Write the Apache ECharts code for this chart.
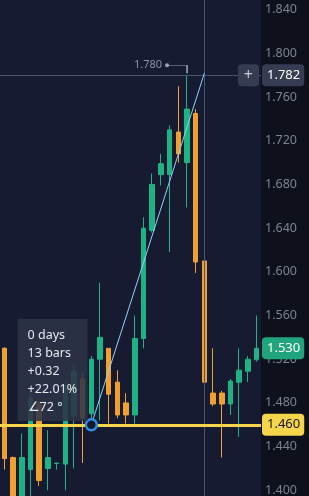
<!DOCTYPE html>
<html>
<head>
<meta charset="utf-8">
<script src="https://cdn.jsdelivr.net/npm/echarts@6/dist/echarts.min.js"></script>
<style>
html, body { margin: 0; padding: 0; background: #0e111c; overflow: hidden; width: 309px; height: 496px; }
/* taller than the window so the 0.04 ticks start at a round min; top and bottom ticks fall outside */
#chart { position: absolute; left: 0; top: -34px; width: 309px; height: 568px; }
</style>
</head>
<body>
<div id="chart"></div>
<script>
// bars, left to right
var bars = ['1','2','3','4','5','6','7','8','9','10','11','12','13','14','15',
            '16','17','18','19','20','21','22','23','24','25','26','27','28','29','30'];
var opens  = [1.530, 1.430, 1.380, 1.419, 1.480, 1.420, 1.4245, 1.424, 1.468, 1.502,
              1.470, 1.520, 1.530, 1.499, 1.480, 1.469, 1.539, 1.638, 1.689, 1.689,
              1.728, 1.700, 1.745, 1.610, 1.489, 1.489, 1.479, 1.499, 1.509, 1.5195];
var closes = [1.429, 1.375, 1.430, 1.485, 1.409, 1.430, 1.425, 1.496, 1.509, 1.466,
              1.520, 1.540, 1.488, 1.469, 1.469, 1.539, 1.640, 1.680, 1.699, 1.730,
              1.708, 1.749, 1.609, 1.499, 1.479, 1.479, 1.500, 1.510, 1.520, 1.530];
var lows   = [1.419, 1.365, 1.372, 1.385, 1.404, 1.400, 1.419, 1.400, 1.420, 1.425,
              1.462, 1.464, 1.461, 1.466, 1.461, 1.461, 1.530, 1.636, 1.679, 1.618,
              1.700, 1.659, 1.599, 1.4975, 1.477, 1.430, 1.469, 1.449, 1.499, 1.518];
var highs  = [1.531, 1.431, 1.452, 1.490, 1.484, 1.455, 1.425, 1.500, 1.514, 1.508,
              1.523, 1.590, 1.530, 1.510, 1.489, 1.560, 1.650, 1.690, 1.708, 1.734,
              1.770, 1.780, 1.749, 1.612, 1.530, 1.491, 1.502, 1.530, 1.523, 1.560];

// price scale
var priceMin = 1.36, priceMax = 1.88, priceStep = 0.04;

// drawing tool / crosshair
var startBar = 10, basePrice = 1.460;
var crossBar = 23, crossPrice = 1.782;
var lastPrice = 1.530;
var highBar = 21, highPrice = 1.780;
var statLines = ['0 days', '13 bars', '+0.32', '+22.01%', '\u222072 \u00b0'];

var up = '#1fb285', down = '#f0a030', crossColor = '#4b5472';
var font = 'Noto Sans';
var hidden = 'rgba(0,0,0,0)';

var candles = bars.map(function (b, i) {
  return [opens[i], closes[i], lows[i], highs[i]];
});

function priceTag(bg, fg) {
  return {
    show: true, position: 'end', distance: 1,
    color: fg, backgroundColor: bg, borderRadius: 4,
    padding: [4, 4, 4, 5], fontSize: 13, lineHeight: 14, fontFamily: font
  };
}

var chart = echarts.init(document.getElementById('chart'));
var option = {
  backgroundColor: '#0e111c',
  animation: false,
  grid: { left: 0, right: 48, top: 0, bottom: 0, show: true, outerBoundsMode: 'none',
          backgroundColor: '#161b31', borderWidth: 0 },
  xAxis: { type: 'category', data: bars, show: false, boundaryGap: true },
  yAxis: {
    type: 'value', position: 'right', min: priceMin, max: priceMax, interval: priceStep,
    axisLine: { show: false }, axisTick: { show: false }, splitLine: { show: false },
    axisLabel: { margin: 4, color: '#7d8292', fontSize: 12.5, fontFamily: font,
                 formatter: function (v) { return v.toFixed(3); } }
  },
  series: [{
    type: 'candlestick',
    data: candles,
    barWidth: 5,
    itemStyle: { color: up, color0: down, borderColor: up, borderColor0: down, borderWidth: 1 },
    markLine: {
      silent: true, symbol: ['none', 'none'], animation: false,
      data: [
        { yAxis: crossPrice, lineStyle: { color: crossColor, width: 1, type: 'solid' },
          label: Object.assign(priceTag('#363c52', '#ffffff'), { formatter: crossPrice.toFixed(3) }) },
        { yAxis: crossPrice, lineStyle: { color: hidden, width: 1 },
          label: { show: true, position: 'insideEnd', distance: 2, formatter: '+',
                   color: '#c8ccd8', backgroundColor: '#363c52', borderRadius: 4,
                   padding: [2, 6, 2, 6], fontSize: 16, lineHeight: 18, fontFamily: font } },
        { xAxis: crossBar, lineStyle: { color: crossColor, width: 1, type: 'solid' },
          label: { show: false } },
        { yAxis: basePrice, lineStyle: { color: '#f7d54a', width: 3, type: 'solid' },
          label: Object.assign(priceTag('#f7d54a', '#131722'), { formatter: basePrice.toFixed(3) }) },
        { yAxis: lastPrice, lineStyle: { color: hidden, width: 1 },
          label: Object.assign(priceTag('#20a47c', '#ffffff'), { formatter: lastPrice.toFixed(3) }) },
        [
          { coord: [startBar, basePrice], lineStyle: { color: '#8fd3f7', width: 1, type: 'solid' },
            label: { show: false } },
          { coord: [crossBar, crossPrice] }
        ]
      ]
    },
    markPoint: {
      silent: true, animation: false,
      data: [
        { coord: [startBar, basePrice], symbol: 'circle', symbolSize: 11,
          itemStyle: { color: '#131a2c', borderColor: '#2f8fe8', borderWidth: 2.5 },
          label: { show: true, position: [-67, -99], formatter: statLines.join('\n'),
                   align: 'left', verticalAlign: 'top', width: 50,
                   backgroundColor: 'rgba(46,51,69,0.88)', padding: [7, 10, 5, 10],
                   lineHeight: 18, color: '#e6e8ef', fontSize: 12.5, fontFamily: font } },
        { coord: [highBar, highPrice], symbol: 'path://M0,0L20,0L20,8', symbolSize: [20, 8],
          symbolOffset: [-10, -6],
          itemStyle: { color: 'none', borderColor: '#9ba1b5', borderWidth: 1 },
          label: { show: false } },
        { coord: [highBar, highPrice], symbol: 'circle', symbolSize: 4, symbolOffset: [-20, -10],
          itemStyle: { color: '#9ba1b5' },
          label: { show: true, position: 'left', distance: 3, formatter: highPrice.toFixed(3),
                   color: '#8d93a5', fontSize: 11, fontFamily: font } }
      ]
    }
  }]
};
chart.setOption(option);
</script>
</body>
</html>
